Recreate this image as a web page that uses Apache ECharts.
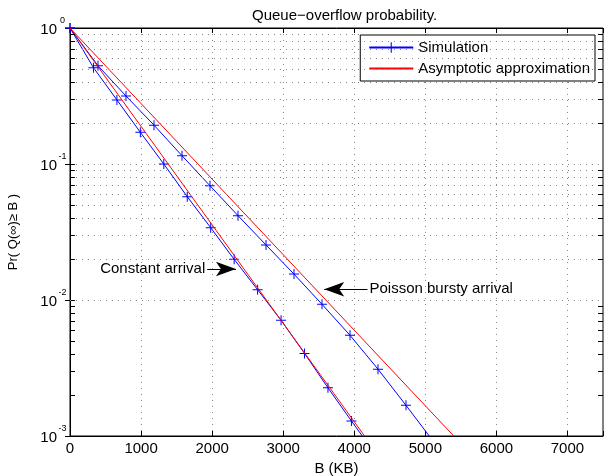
<!DOCTYPE html>
<html><head><meta charset="utf-8">
<script src="https://cdn.jsdelivr.net/npm/echarts@6/dist/echarts.min.js"></script>
<style>html,body{margin:0;padding:0;background:#fff}#c{width:606px;height:476px}</style>
</head><body><div id="c"></div>
<script>
// ---- data ----
const constB = [0, 330, 660, 990, 1320, 1650, 1980, 2310, 2640, 2970, 3300, 3630, 3960, 4290];
const constP = [1, 0.511, 0.296, 0.171, 0.100, 0.0575, 0.0340, 0.0199, 0.0119, 0.0071, 0.00405, 0.00226, 0.00129, 0.000745];
const poisB = [0, 394, 788, 1182, 1576, 1970, 2364, 2758, 3152, 3546, 3940, 4334, 4728, 5122];
const poisP = [1, 0.528, 0.316, 0.193, 0.115, 0.0692, 0.0417, 0.0254, 0.0155, 0.0093, 0.0055, 0.0031, 0.00168, 0.0009];
const approxConstB = [0, 4145];
const approxConstP = [1, 0.001];
const approxPoisB = [0, 5400];
const approxPoisP = [1, 0.001];
const xTickLabels = ['0', '1000', '2000', '3000', '4000', '5000', '6000', '7000'];
const yDecades = [0.001, 0.01, 0.1, 1];
const minorMult = [2, 3, 4, 5, 6, 7, 8, 9];
const annotations = [
  { text: 'Constant arrival', from: [1931, 0.0169], to: [2335, 0.0169] },
  { text: 'Poisson bursty arrival', from: [4186, 0.0120], to: [3577, 0.0120] }
];

const FONT = 'Liberation Sans, Arial, Helvetica, sans-serif';
const BLUE = '#0000ff', RED = '#ff0000';
const PLUS = 'path://M4.5,0H5.5V4.5H10V5.5H5.5V10H4.5V5.5H0V4.5H4.5Z';

const minorY = [];
yDecades.slice(0, 3).forEach(d => minorMult.forEach(m => minorY.push(+(m * d).toPrecision(3))));

const zip = (a, b) => a.map((v, i) => [v, b[i]]);

const gridLineStyle = { type: [1, 5], color: '#888', width: 1 };
const tickStyle = { color: '#000', width: 1, type: 'solid' };
const gridMarks = [];
minorY.forEach(v => gridMarks.push({ yAxis: v, lineStyle: gridLineStyle }));
minorY.forEach(v => {
  gridMarks.push([{ coord: [0, v], lineStyle: tickStyle }, { coord: [70, v] }]);
  gridMarks.push([{ coord: [7430, v], lineStyle: tickStyle }, { coord: [7500, v] }]);
});

const arrowData = annotations.map(a => [
  { coord: a.from, symbol: 'none',
    label: { show: true, position: 'start', formatter: a.text, distance: 2, color: '#000', fontSize: 15, fontFamily: FONT } },
  { coord: a.to, symbol: 'arrow', symbolSize: [11, 20] }
]);

const chart = echarts.init(document.getElementById('c'), null, { renderer: 'canvas' });
chart.setOption({
  animation: false,
  backgroundColor: '#fff',
  textStyle: { fontFamily: FONT },
  title: {
    text: 'Queue\u2212overflow probability.',
    left: 247, top: 3,
    textStyle: { fontSize: 15, fontWeight: 'normal', color: '#000', fontFamily: FONT }
  },
  legend: {
    data: [
      { name: 'Simulation' },
      { name: 'Asymptotic approximation', itemStyle: { opacity: 0 } }
    ],
    orient: 'vertical',
    right: 11, top: 35,
    backgroundColor: '#fff',
    borderColor: '#000', borderWidth: 1, borderRadius: 0,
    padding: [5, 5, 5, 8],
    itemGap: 6, itemWidth: 44, itemHeight: 13,
    textStyle: { fontSize: 15, color: '#000', fontFamily: FONT }
  },
  grid: { left: 70, right: 3, top: 28, bottom: 40, outerBoundsMode: 'none', containLabel: false,
    show: true, borderColor: '#000', borderWidth: 1, backgroundColor: 'transparent' },
  xAxis: [{
    type: 'value', min: 0, max: 7500, interval: 1000,
    name: 'B (KB)', nameLocation: 'middle', nameGap: 24,
    nameTextStyle: { fontSize: 15, color: '#000', fontFamily: FONT },
    axisLine: { lineStyle: { color: '#000', width: 1 } },
    axisTick: { inside: true, length: 5, lineStyle: { color: '#000' } },
    axisLabel: { color: '#000', fontSize: 15, margin: 5, fontFamily: FONT,
      formatter: v => { const i = Math.round(v / 1000); return (v % 1000 === 0 && i < xTickLabels.length) ? xTickLabels[i] : ''; } },
    splitLine: { show: true, lineStyle: gridLineStyle }
  }, {
    type: 'value', min: 0, max: 7500, interval: 1000, position: 'top',
    axisLine: { lineStyle: { color: '#000' } },
    axisTick: { inside: true, length: 5, lineStyle: { color: '#000' } },
    axisLabel: { show: false }, splitLine: { show: false }
  }],
  yAxis: [{
    type: 'log', logBase: 10, min: 0.001, max: 1,
    name: 'Pr( Q(\u221e)\u2265 B )', nameLocation: 'middle', nameGap: 50,
    nameTextStyle: { fontSize: 13, color: '#000', fontFamily: FONT },
    axisLine: { lineStyle: { color: '#000', width: 1 } },
    axisTick: { inside: true, length: 5, lineStyle: { color: '#000' } },
    axisLabel: {
      color: '#000', margin: 3, fontFamily: FONT, padding: [4, 0, 0, 0],
      formatter: v => '{b|10}{s|' + Math.round(Math.log10(v)) + '}',
      rich: {
        b: { fontSize: 15, color: '#000', verticalAlign: 'middle', fontFamily: FONT },
        s: { fontSize: 9, color: '#000', verticalAlign: 'middle', width: 9, align: 'left', padding: [0, 0, 18, 1], fontFamily: FONT }
      }
    },
    splitLine: { show: true, lineStyle: gridLineStyle }
  }, {
    type: 'log', logBase: 10, min: 0.001, max: 1, position: 'right',
    axisLine: { lineStyle: { color: '#000' } },
    axisTick: { inside: true, length: 5, lineStyle: { color: '#000' } },
    axisLabel: { show: false }, splitLine: { show: false }
  }],
  series: [
    {
      name: 'grid', type: 'line', data: [], silent: true, z: 1,
      markLine: { silent: true, symbol: 'none', animation: false, label: { show: false }, data: gridMarks }
    },
    {
      name: 'Simulation', type: 'line', data: zip(constB, constP),
      symbol: PLUS, symbolSize: 10, showAllSymbol: true, clip: true,
      lineStyle: { color: BLUE, width: 1 }, itemStyle: { color: BLUE }, z: 3
    },
    {
      name: 'Simulation', type: 'line', data: zip(poisB, poisP),
      symbol: PLUS, symbolSize: 10, showAllSymbol: true, clip: true,
      lineStyle: { color: BLUE, width: 1 }, itemStyle: { color: BLUE }, z: 3
    },
    {
      name: 'Asymptotic approximation', type: 'line', data: zip(approxConstB, approxConstP),
      symbol: 'none', clip: true,
      lineStyle: { color: RED, width: 1 }, itemStyle: { color: RED }, z: 4
    },
    {
      name: 'Asymptotic approximation', type: 'line', data: zip(approxPoisB, approxPoisP),
      symbol: 'none', clip: true,
      lineStyle: { color: RED, width: 1 }, itemStyle: { color: RED }, z: 4
    },
    {
      name: 'annotations', type: 'line', data: [], silent: true, z: 5,
      markLine: { silent: true, animation: false, lineStyle: { color: '#000', width: 1, type: 'solid' },
        itemStyle: { color: '#000' }, data: arrowData }
    }
  ]
});
</script></body></html>
